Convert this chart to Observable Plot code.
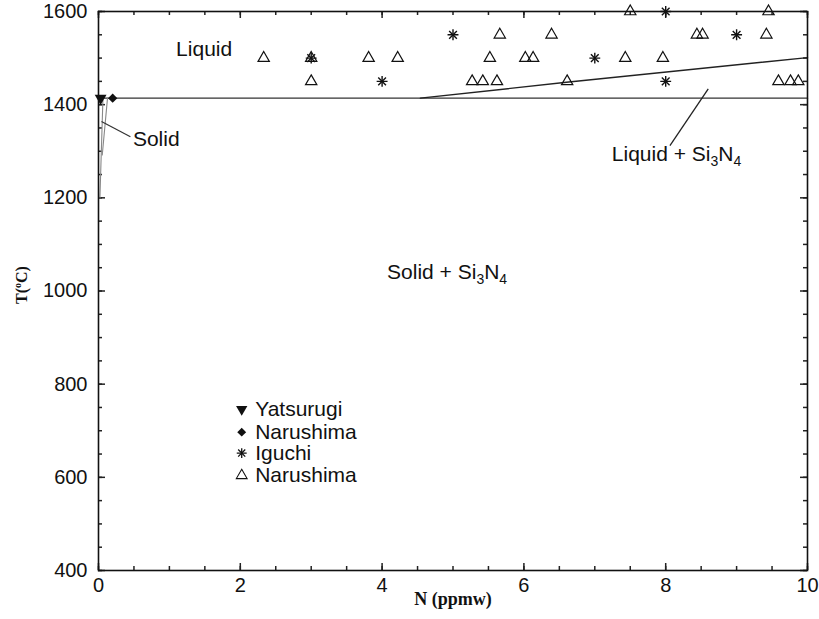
<!DOCTYPE html>
<html>
<head>
<meta charset="utf-8">
<script src="https://cdn.jsdelivr.net/npm/d3@7"></script>
<script src="https://cdn.jsdelivr.net/npm/@observablehq/plot@0.6"></script>
<style>
  body { margin: 0; background: #fff; }
  #chart svg { display: block; }
</style>
</head>
<body>
<div id="chart"></div>
<script>
// Axis ticks
const xTicks = [0, 2, 4, 6, 8, 10];
const yTicks = [400, 600, 800, 1000, 1200, 1400, 1600];

// Measured solubility points: nitrogen content N (ppmw) and temperature T (°C)
const yatsurugiN = [0.03];
const yatsurugiT = [1414];

const narushimaSolidN = [0.2];
const narushimaSolidT = [1414];

const iguchiN = [3.0, 4.0, 5.0, 7.0, 8.0, 8.0, 9.0];
const iguchiT = [1500, 1450, 1550, 1500, 1600, 1450, 1550];

const narushimaN = [3.0, 5.27, 5.42, 5.62, 6.61, 9.59, 9.76, 9.87,
                    2.33, 3.0, 3.81, 4.22, 5.52, 6.02, 6.13, 7.43, 7.96,
                    5.66, 6.39, 8.44, 8.52, 9.42,
                    7.5, 9.45];
const narushimaT = [1450, 1450, 1450, 1450, 1450, 1450, 1450, 1450,
                    1500, 1500, 1500, 1500, 1500, 1500, 1500, 1500, 1500,
                    1550, 1550, 1550, 1550, 1550,
                    1600, 1600];

// Phase boundaries
const meltN = [0, 10];
const meltT = [1414, 1414];
const liquidusN = [4.54, 6.6, 10];
const liquidusT = [1414, 1448, 1501];
const solidusAN = [0.02, 0.062];
const solidusAT = [1200, 1410];
const solidusBN = [0.053, 0.127];
const solidusBT = [1292, 1414];

const toRows = (xs, ys) => xs.map((x, i) => ({N: x, T: ys[i]}));

const W = 819, H = 619;
const mTop = 11, mRight = 12, mBottom = 49, mLeft = 98;
const xDomain = [0, 10], yDomain = [400, 1600];

// data units per pixel, so the tick marks keep a fixed pixel length
const xPerPx = (xDomain[1] - xDomain[0]) / (W - mLeft - mRight);
const yPerPx = (yDomain[1] - yDomain[0]) / (H - mTop - mBottom);

const xMinor = d3.range(0, 10.001, 0.5);
const yMinor = d3.range(400, 1600.001, 50);

const ink = "#111";
const sans = "'Liberation Sans', Arial, Helvetica, sans-serif";
const serif = "'Liberation Serif', 'Times New Roman', serif";

// Inward tick marks on all four sides of the frame
function frameTicks(len, xs, ys) {
  const dx = len * xPerPx, dy = len * yPerPx;
  const style = {stroke: "#222", strokeWidth: 1.5};
  return [
    Plot.ruleX(xs, {x: d => d, y1: yDomain[0], y2: yDomain[0] + dy, ...style}),
    Plot.ruleX(xs, {x: d => d, y1: yDomain[1], y2: yDomain[1] - dy, ...style}),
    Plot.ruleY(ys, {y: d => d, x1: xDomain[0], x2: xDomain[0] + dx, ...style}),
    Plot.ruleY(ys, {y: d => d, x1: xDomain[1], x2: xDomain[1] - dx, ...style})
  ];
}

// Legend rows
const legendN = 2.02;
const legendTextN = 2.21;
const legendRows = [
  {label: "Yatsurugi", T: 746},
  {label: "Narushima", T: 697},
  {label: "Iguchi", T: 652},
  {label: "Narushima", T: 604}
];

const chart = Plot.plot({
  width: W,
  height: H,
  marginTop: mTop,
  marginRight: mRight,
  marginBottom: mBottom,
  marginLeft: mLeft,
  x: {domain: xDomain},
  y: {domain: yDomain},
  style: {fontFamily: sans, fontSize: "20px", background: "#fff", color: ink},
  marks: [
    // tick labels
    Plot.axisX(xTicks, {tickSize: 0, tickPadding: 7, label: null, fontSize: 20, tickFormat: d => String(d)}),
    Plot.axisY(yTicks, {tickSize: 0, tickPadding: 11, label: null, fontSize: 20, tickFormat: d => String(d)}),

    ...frameTicks(4, xMinor, yMinor),
    ...frameTicks(7, xTicks, yTicks),

    // phase boundaries
    Plot.line(toRows(meltN, meltT), {x: "N", y: "T", stroke: "#333", strokeWidth: 1.4}),
    Plot.line(toRows(liquidusN, liquidusT), {x: "N", y: "T", stroke: "#222", strokeWidth: 1.4, curve: "natural"}),
    Plot.line(toRows(solidusAN, solidusAT), {x: "N", y: "T", stroke: "#888", strokeWidth: 1.1}),
    Plot.line(toRows(solidusBN, solidusBT), {x: "N", y: "T", stroke: "#888", strokeWidth: 1.1}),

    // region annotations and leaders
    Plot.link([{x1: 0.042, y1: 1364, x2: 0.45, y2: 1331}], {x1: "x1", y1: "y1", x2: "x2", y2: "y2", stroke: "#333", strokeWidth: 1.2}),
    Plot.link([{x1: 8.06, y1: 1312, x2: 8.6, y2: 1434}], {x1: "x1", y1: "y1", x2: "x2", y2: "y2", stroke: "#222", strokeWidth: 1.3}),
    Plot.text(["Liquid"], {x: 1.49, y: 1518, text: d => d, fill: ink, fontSize: 21}),
    Plot.text(["Solid"], {x: 0.485, y: 1325, text: d => d, fill: ink, fontSize: 21, textAnchor: "start"}),
    Plot.text(["Liquid + Si3N4"], {x: 7.24, y: 1293, text: d => d, fill: ink, fontSize: 21, textAnchor: "start"}),
    Plot.text(["Solid + Si3N4"], {x: 4.07, y: 1040, text: d => d, fill: ink, fontSize: 21, textAnchor: "start"}),

    // data points
    Plot.dot(toRows(narushimaN, narushimaT), {x: "N", y: "T", symbol: "triangle", r: 4.2, stroke: ink, strokeWidth: 1.2, fill: "none"}),
    Plot.dot(toRows(iguchiN, iguchiT), {x: "N", y: "T", symbol: "plus", r: 3.6, stroke: ink, strokeWidth: 1.4}),
    Plot.dot(toRows(iguchiN, iguchiT), {x: "N", y: "T", symbol: "times", r: 3.6, stroke: ink, strokeWidth: 1.4}),
    Plot.dot(toRows(yatsurugiN, yatsurugiT), {x: "N", y: "T", symbol: "triangle", rotate: 180, r: 4.4, fill: ink, stroke: "none"}),
    Plot.dot(toRows(narushimaSolidN, narushimaSolidT), {x: "N", y: "T", symbol: "diamond2", r: 4.2, fill: ink, stroke: "none"}),

    // legend
    Plot.dot([legendRows[0]], {x: legendN, y: "T", symbol: "triangle", rotate: 180, r: 4.2, fill: ink, stroke: "none"}),
    Plot.dot([legendRows[1]], {x: legendN, y: "T", symbol: "diamond2", r: 4, fill: ink, stroke: "none"}),
    Plot.dot([legendRows[2]], {x: legendN, y: "T", symbol: "plus", r: 3.3, stroke: ink, strokeWidth: 1.3}),
    Plot.dot([legendRows[2]], {x: legendN, y: "T", symbol: "times", r: 3.3, stroke: ink, strokeWidth: 1.3}),
    Plot.dot([legendRows[3]], {x: legendN, y: "T", symbol: "triangle", r: 4, stroke: ink, strokeWidth: 1.1, fill: "none"}),
    Plot.text(legendRows, {x: legendTextN, y: "T", text: "label", textAnchor: "start", fill: ink, fontSize: 21}),

    // axis titles
    Plot.text(["N (ppmw)"], {frameAnchor: "bottom", dy: 34, text: d => d, fontFamily: serif, fontWeight: "bold", fontSize: 18, fill: ink}),
    Plot.text(["T(oC)"], {frameAnchor: "left", dx: -77, dy: -6, rotate: -90, textAnchor: "middle", text: d => d, fontFamily: serif, fontWeight: "bold", fontSize: 16, fill: ink}),

    Plot.frame({stroke: ink, strokeWidth: 1.6})
  ]
});

// Typeset subscripts and superscripts inside the labels
const svgNS = "http://www.w3.org/2000/svg";
function typeset(t, parts) {
  while (t.firstChild) t.removeChild(t.firstChild);
  parts.forEach(([str, dy, fs]) => {
    const ts = document.createElementNS(svgNS, "tspan");
    ts.textContent = str;
    if (dy) ts.setAttribute("dy", dy);
    if (fs) ts.setAttribute("font-size", fs);
    t.appendChild(ts);
  });
}
chart.querySelectorAll("text").forEach(t => {
  const s = t.textContent;
  if (s.includes("Si3N4")) {
    const pre = s.split("Si3N4")[0];
    typeset(t, [[pre + "Si", 0, null], ["3", 5, 14], ["N", -5, null], ["4", 5, 14]]);
  } else if (s === "T(oC)") {
    typeset(t, [["T(", 0, null], ["o", -6, 10], ["C)", 6, null]]);
  }
});

document.getElementById("chart").appendChild(chart);
</script>
</body>
</html>
